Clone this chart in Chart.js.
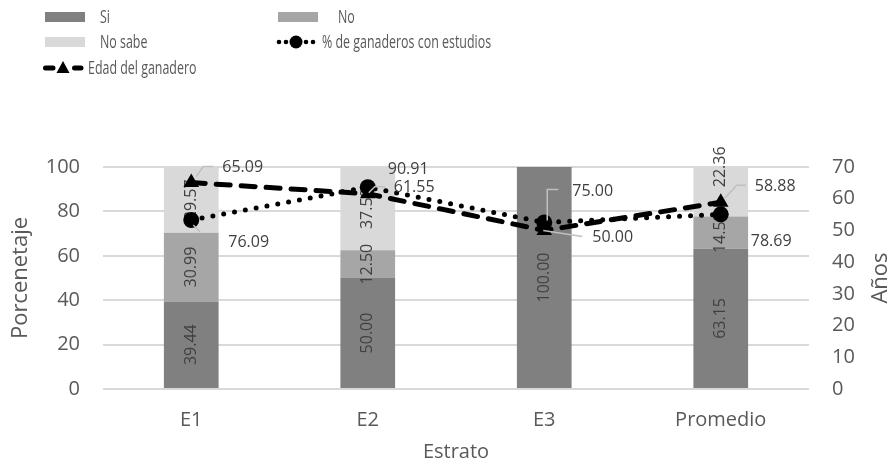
<!DOCTYPE html>
<html>
<head>
<meta charset="utf-8">
<script src="https://cdn.jsdelivr.net/npm/chart.js@4.4.0/dist/chart.umd.min.js"></script>
<style>
  html, body { margin: 0; padding: 0; background: #ffffff; }
  #c { display: block; }
</style>
</head>
<body>
<canvas id="c" width="891" height="471"></canvas>
<script>
// ---- data ----
const categories = ['E1', 'E2', 'E3', 'Promedio'];
const siValues = [39.44, 50.00, 100.00, 63.15];
const noValues = [30.99, 12.50, 0, 14.50];
const noSabeValues = [29.57, 37.50, 0, 22.36];
const estudiosValues = [76.09, 90.91, 75.00, 78.69];
const edadValues = [65.09, 61.55, 50.00, 58.88];
const pctTicks = [0, 20, 40, 60, 80, 100];
const ageTicks = [0, 10, 20, 30, 40, 50, 60, 70];

// ---- look ----
const TEXT = '#595959';
const LABEL = '#404040';
const FONT = "'Open Sans', 'DejaVu Sans', sans-serif";

// callouts for the line value labels: text offset from the point and leader polyline (px)
const estudiosCallouts = [
  { dx: 37, dy: 22, lead: [[2, 5], [9, 12]] },
  { dx: 20, dy: -18, lead: null },
  { dx: 28, dy: -31.5, lead: [[3, -2], [3, -33], [14, -33]] },
  { dx: 30, dy: 27, lead: null }
];
const edadCallouts = [
  { dx: 31, dy: -15, lead: [[5, -6], [12, -16], [22, -16]] },
  { dx: 26, dy: -6, lead: [[1, -1], [7, -7], [17, -7]] },
  { dx: 48, dy: 7, lead: [[-1, 0], [38, 6]] },
  { dx: 34, dy: -16, lead: [[4, -4], [16, -17], [25, -17]] }
];

// value labels inside the stacked bars, written bottom-to-top,
// painted once every bar segment is down so they can overflow short segments
const barLabels = {
  id: 'barLabels',
  afterDatasetDraw(chart, args) {
    if (args.index !== 0) return;
    const ctx = chart.ctx;
    chart.data.datasets.forEach((ds, i) => {
      if (ds.type !== 'bar') return;
      chart.getDatasetMeta(i).data.forEach((el, j) => {
        const v = ds.data[j];
        if (!v) return;
        const p = el.getProps(['x', 'y', 'base'], true);
        const cy = (p.y + p.base) / 2 + (ds.labelShift ? ds.labelShift[j] : 0);
        ctx.save();
        ctx.translate(p.x, cy);
        ctx.rotate(-Math.PI / 2);
        ctx.font = '16px ' + FONT;
        ctx.fillStyle = LABEL;
        ctx.textAlign = 'center';
        ctx.textBaseline = 'middle';
        ctx.fillText(v.toFixed(2), 0, 0);
        ctx.restore();
      });
    });
  }
};

// value labels of the two lines, with grey leader lines
const lineLabels = {
  id: 'lineLabels',
  afterDatasetsDraw(chart) {
    const ctx = chart.ctx;
    chart.data.datasets.forEach((ds, i) => {
      if (ds.type !== 'line' || !ds.callouts) return;
      const meta = chart.getDatasetMeta(i);
      meta.data.forEach((pt, j) => {
        const c = ds.callouts[j];
        const { x, y } = pt.getProps(['x', 'y'], true);
        if (c.lead) {
          ctx.save();
          ctx.strokeStyle = '#bfbfbf';
          ctx.lineWidth = 1.5;
          ctx.beginPath();
          c.lead.forEach((q, k) => {
            if (k === 0) ctx.moveTo(x + q[0], y + q[1]);
            else ctx.lineTo(x + q[0], y + q[1]);
          });
          ctx.stroke();
          ctx.restore();
        }
        ctx.save();
        ctx.font = '16px ' + FONT;
        ctx.fillStyle = LABEL;
        ctx.textAlign = 'left';
        ctx.textBaseline = 'middle';
        ctx.fillText(ds.data[j].toFixed(2), x + c.dx, y + c.dy);
        ctx.restore();
      });
    });
  }
};

// legend laid out in two columns above the plot, in a condensed face
const legendLayout = [
  { ds: 0, sym: 'box', x: 45, y: 17, tx: 100 },
  { ds: 1, sym: 'box', x: 278, y: 17, tx: 338 },
  { ds: 2, sym: 'box', x: 45, y: 42, tx: 100 },
  { ds: 3, sym: 'dots', x: 279, y: 42, tx: 322 },
  { ds: 4, sym: 'dash', x: 43, y: 68, tx: 88 }
];
const LEGEND_SQUEEZE = 0.69;
const blockLegend = {
  id: 'blockLegend',
  afterDraw(chart) {
    const ctx = chart.ctx;
    legendLayout.forEach(it => {
      const ds = chart.data.datasets[it.ds];
      ctx.save();
      if (it.sym === 'box') {
        ctx.fillStyle = ds.backgroundColor;
        ctx.fillRect(it.x, it.y - 5, 40, 10);
      } else if (it.sym === 'dots') {
        ctx.fillStyle = '#000';
        [0, 7, 27, 34].forEach(d => {
          ctx.beginPath(); ctx.arc(it.x + d, it.y, 2.3, 0, Math.PI * 2); ctx.fill();
        });
        ctx.beginPath(); ctx.arc(it.x + 17, it.y, 6.5, 0, Math.PI * 2); ctx.fill();
      } else if (it.sym === 'dash') {
        ctx.strokeStyle = '#000';
        ctx.lineWidth = 5;
        ctx.lineCap = 'round';
        ctx.beginPath();
        ctx.moveTo(it.x + 2.5, it.y); ctx.lineTo(it.x + 10, it.y);
        ctx.moveTo(it.x + 31.5, it.y); ctx.lineTo(it.x + 38, it.y);
        ctx.stroke();
        ctx.fillStyle = '#000';
        ctx.beginPath();
        ctx.moveTo(it.x + 20, it.y - 7);
        ctx.lineTo(it.x + 26.5, it.y + 5);
        ctx.lineTo(it.x + 13.5, it.y + 5);
        ctx.closePath(); ctx.fill();
      }
      ctx.translate(it.tx, it.y + 1);
      ctx.scale(LEGEND_SQUEEZE, 1);
      ctx.font = '18px ' + FONT;
      ctx.fillStyle = TEXT;
      ctx.textAlign = 'left';
      ctx.textBaseline = 'middle';
      ctx.fillText(ds.label, 0, 0);
      ctx.restore();
    });
  }
};

// right axis title, written bottom-to-top like the left one
const rightTitle = {
  id: 'rightTitle',
  afterDraw(chart) {
    const sc = chart.scales.y1;
    const ctx = chart.ctx;
    ctx.save();
    ctx.translate(881, (chart.chartArea.top + chart.chartArea.bottom) / 2);
    ctx.rotate(-Math.PI / 2);
    ctx.font = '22px ' + FONT;
    ctx.fillStyle = TEXT;
    ctx.textAlign = 'center';
    ctx.textBaseline = 'middle';
    ctx.fillText(sc.options.title.text, 0, 0);
    ctx.restore();
  }
};

new Chart(document.getElementById('c'), {
  data: {
    labels: categories,
    datasets: [
      { type: 'bar', label: 'Si', data: siValues, backgroundColor: '#808080', yAxisID: 'y', order: 2, stack: 'bars' },
      { type: 'bar', label: 'No', data: noValues, backgroundColor: '#a6a6a6', yAxisID: 'y', order: 2, stack: 'bars' },
      { type: 'bar', label: 'No sabe', data: noSabeValues, backgroundColor: '#d9d9d9', yAxisID: 'y', order: 2, stack: 'bars',
        labelShift: [0, 0, 0, -25] },
      { type: 'line', label: '% de ganaderos con estudios', data: estudiosValues, yAxisID: 'y', order: 1, stack: 'estudios',
        borderColor: '#000', borderWidth: 5, borderDash: [0, 11], borderCapStyle: 'round',
        pointStyle: 'circle', pointRadius: 8, pointBackgroundColor: '#000', pointBorderColor: '#000', pointBorderWidth: 0,
        fill: false, tension: 0, callouts: estudiosCallouts },
      { type: 'line', label: 'Edad del ganadero', data: edadValues, yAxisID: 'y1', order: 0, stack: 'edad',
        borderColor: '#000', borderWidth: 5, borderDash: [14, 11], borderCapStyle: 'round',
        pointStyle: 'triangle', pointRadius: 9, pointBackgroundColor: '#000', pointBorderColor: '#000', pointBorderWidth: 0,
        fill: false, tension: 0, callouts: edadCallouts }
    ]
  },
  options: {
    responsive: false,
    animation: false,
    layout: { padding: { top: 167, left: 0, right: 0, bottom: 0 } },
    datasets: { bar: { barPercentage: 0.31, categoryPercentage: 1 } },
    plugins: { legend: { display: false }, tooltip: { enabled: false } },
    scales: {
      x: {
        stacked: true,
        grid: { display: false, drawTicks: false },
        border: { display: false },
        ticks: { color: TEXT, font: { family: FONT, size: 20 }, padding: 19 },
        title: { display: true, text: 'Estrato', color: TEXT, font: { family: FONT, size: 20 }, padding: { top: 0, bottom: 7 } },
        afterFit(s) { s.height = 82; }
      },
      y: {
        position: 'left',
        stacked: true,
        min: pctTicks[0], max: pctTicks[pctTicks.length - 1],
        afterBuildTicks(s) { s.ticks = pctTicks.map(v => ({ value: v })); },
        grid: { color: '#d9d9d9', lineWidth: 2, drawTicks: false },
        border: { display: false },
        ticks: { color: TEXT, font: { family: FONT, size: 20 }, padding: 23 },
        title: { display: true, text: 'Porcenetaje', color: TEXT, font: { family: FONT, size: 22 }, padding: { top: 8, bottom: 0 } },
        afterFit(s) { s.width = 103; }
      },
      y1: {
        position: 'right',
        min: ageTicks[0], max: ageTicks[ageTicks.length - 1],
        afterBuildTicks(s) { s.ticks = ageTicks.map(v => ({ value: v })); },
        grid: { display: false, drawTicks: false },
        border: { display: false },
        ticks: { color: TEXT, font: { family: FONT, size: 20 }, padding: 23 },
        title: { display: false, text: 'Años' },
        afterFit(s) { s.width = 82; }
      }
    }
  },
  plugins: [barLabels, lineLabels, blockLegend, rightTitle]
});
</script>
</body>
</html>
